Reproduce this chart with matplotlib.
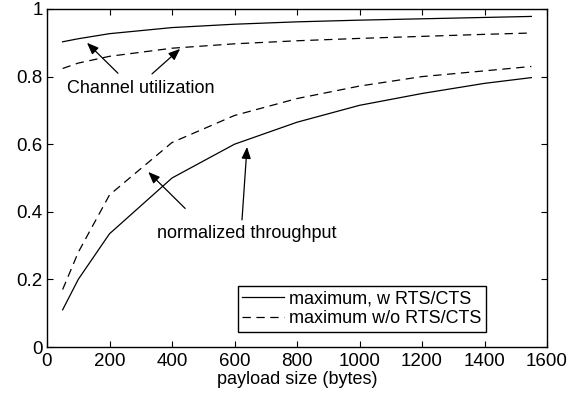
import matplotlib
matplotlib.use("Agg")
import matplotlib.pyplot as plt

plt.rcParams['font.family'] = ['Liberation Sans', 'DejaVu Sans']
plt.rcParams['lines.scale_dashes'] = False

payload = [50, 100, 200, 400, 600, 800, 1000, 1200, 1400, 1550]
util_rts = [0.903, 0.912, 0.927, 0.945, 0.955, 0.962, 0.967, 0.971, 0.975, 0.978]
util_basic = [0.824, 0.840, 0.860, 0.884, 0.897, 0.906, 0.913, 0.919, 0.925, 0.929]
thr_rts = [0.11, 0.20, 0.335, 0.50, 0.60, 0.665, 0.715, 0.75, 0.78, 0.797]
thr_basic = [0.17, 0.28, 0.45, 0.605, 0.685, 0.735, 0.772, 0.80, 0.817, 0.83]

xticks = [0, 200, 400, 600, 800, 1000, 1200, 1400, 1600]
yticks = [0, 0.2, 0.4, 0.6, 0.8, 1]
ytick_labels = ['0', '0.2', '0.4', '0.6', '0.8', '1']

fig = plt.figure(figsize=(5.81, 3.93), dpi=100)
ax = fig.add_axes([47/581, 1-347/393, 500/581, 338/393])

dash = (0, (6, 4))
ax.plot(payload, thr_rts, color='black', lw=0.9, label='maximum, w RTS/CTS')
ax.plot(payload, thr_basic, color='black', lw=0.9, linestyle=dash, label='maximum w/o RTS/CTS')
ax.plot(payload, util_rts, color='black', lw=0.9)
ax.plot(payload, util_basic, color='black', lw=0.9, linestyle=dash)

ax.set_xlim(0, 1600)
ax.set_ylim(0, 1)
ax.set_xticks(xticks)
ax.set_xticklabels([str(t) for t in xticks])
ax.set_yticks(yticks)
ax.set_yticklabels(ytick_labels)
ax.tick_params(direction='in', top=True, right=True, length=4, width=0.8,
               labelsize=13.5, colors='black')
ax.tick_params(axis='x', pad=4)
ax.tick_params(axis='y', pad=3)
for s in ax.spines.values():
    s.set_linewidth(1.0)
ax.set_xlabel('payload size (bytes)', fontsize=13, labelpad=1)

ap = dict(arrowstyle='-|>,head_length=0.5,head_width=0.2', color='black', lw=0.9,
          mutation_scale=14, shrinkA=0, shrinkB=0)
ax.text(300, 0.766, 'Channel utilization', fontsize=13, ha='center', va='center')
ax.annotate('', xy=(128, 0.90), xytext=(227, 0.81), arrowprops=ap)
ax.annotate('', xy=(426, 0.882), xytext=(336, 0.808), arrowprops=ap)

ax.text(638, 0.335, 'normalized throughput', fontsize=13, ha='center', va='center')
ax.annotate('', xy=(324, 0.518), xytext=(442, 0.41), arrowprops=ap)
ax.annotate('', xy=(640, 0.592), xytext=(624, 0.376), arrowprops=ap)

leg = ax.legend(loc='lower right', bbox_to_anchor=(1 - 61/500, 15/338), fontsize=13,
                frameon=True, fancybox=False, edgecolor='black', framealpha=1,
                borderpad=0.25, handlelength=2.3, handletextpad=0.3, labelspacing=0.15,
                borderaxespad=0)
leg.get_frame().set_linewidth(1.0)

fig.savefig('out.png', dpi=100)
